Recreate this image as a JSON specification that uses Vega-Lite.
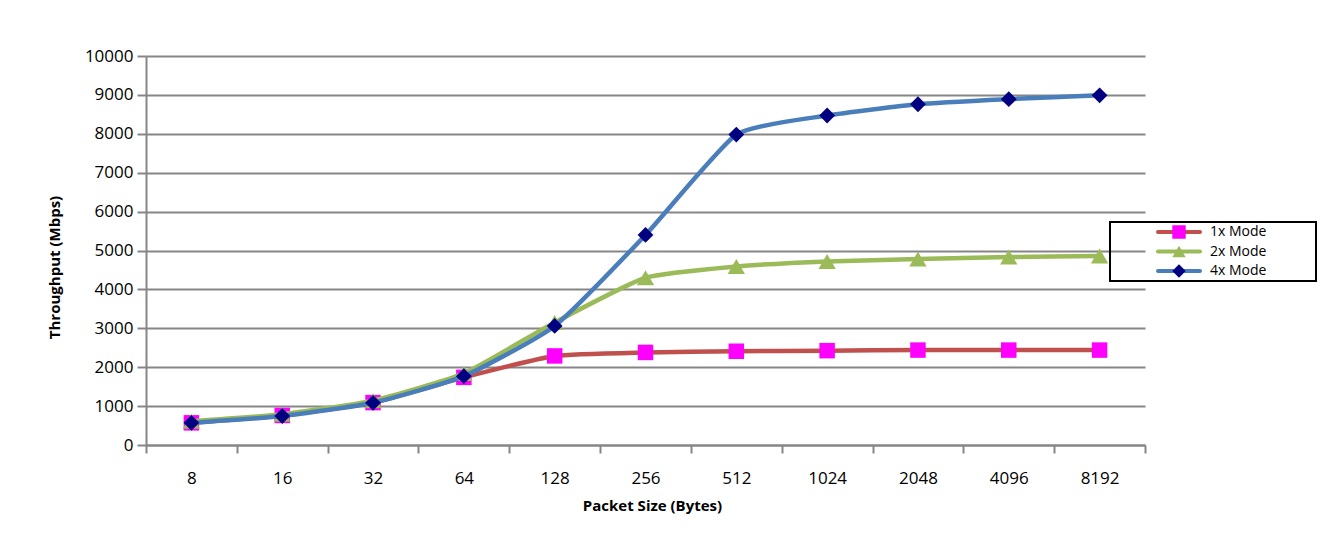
{
  "$schema": "https://vega.github.io/schema/vega-lite/v6.json",
  "width": 999,
  "height": 389,
  "autosize": {"type": "none"},
  "padding": {"left": 146, "top": 56, "right": 179, "bottom": 91},
  "background": "white",
  "config": {
    "font": "Open Sans",
    "view": {"stroke": null},
    "axis": {
      "domainColor": "#868686",
      "domainWidth": 2,
      "tickColor": "#868686",
      "tickWidth": 2,
      "gridColor": "#868686",
      "gridWidth": 2,
      "gridOpacity": 1,
      "labelColor": "black",
      "labelFont": "Open Sans",
      "labelFontSize": 17,
      "titleColor": "black",
      "titleFont": "Open Sans",
      "titleFontSize": 15,
      "titleFontWeight": "bold"
    }
  },
  "data": {
    "values": [
      {"size": 8, "mode": "1x Mode", "mbps": 570},
      {"size": 16, "mode": "1x Mode", "mbps": 760},
      {"size": 32, "mode": "1x Mode", "mbps": 1090},
      {"size": 64, "mode": "1x Mode", "mbps": 1740},
      {"size": 128, "mode": "1x Mode", "mbps": 2290},
      {"size": 256, "mode": "1x Mode", "mbps": 2380},
      {"size": 512, "mode": "1x Mode", "mbps": 2410},
      {"size": 1024, "mode": "1x Mode", "mbps": 2425},
      {"size": 2048, "mode": "1x Mode", "mbps": 2440},
      {"size": 4096, "mode": "1x Mode", "mbps": 2440},
      {"size": 8192, "mode": "1x Mode", "mbps": 2440},
      {"size": 8, "mode": "2x Mode", "mbps": 610},
      {"size": 16, "mode": "2x Mode", "mbps": 790},
      {"size": 32, "mode": "2x Mode", "mbps": 1140},
      {"size": 64, "mode": "2x Mode", "mbps": 1840},
      {"size": 128, "mode": "2x Mode", "mbps": 3150},
      {"size": 256, "mode": "2x Mode", "mbps": 4300},
      {"size": 512, "mode": "2x Mode", "mbps": 4590},
      {"size": 1024, "mode": "2x Mode", "mbps": 4720},
      {"size": 2048, "mode": "2x Mode", "mbps": 4780},
      {"size": 4096, "mode": "2x Mode", "mbps": 4830},
      {"size": 8192, "mode": "2x Mode", "mbps": 4860},
      {"size": 8, "mode": "4x Mode", "mbps": 570},
      {"size": 16, "mode": "4x Mode", "mbps": 745},
      {"size": 32, "mode": "4x Mode", "mbps": 1085},
      {"size": 64, "mode": "4x Mode", "mbps": 1770},
      {"size": 128, "mode": "4x Mode", "mbps": 3060},
      {"size": 256, "mode": "4x Mode", "mbps": 5400},
      {"size": 512, "mode": "4x Mode", "mbps": 7980},
      {"size": 1024, "mode": "4x Mode", "mbps": 8470},
      {"size": 2048, "mode": "4x Mode", "mbps": 8760},
      {"size": 4096, "mode": "4x Mode", "mbps": 8890},
      {"size": 8192, "mode": "4x Mode", "mbps": 8990}
    ]
  },
  "encoding": {
    "x": {
      "field": "size",
      "type": "ordinal",
      "bandPosition": 0.5,
      "scale": {"type": "band", "paddingInner": 0, "paddingOuter": 0},
      "axis": {
        "title": "Packet Size (Bytes)",
        "labelAngle": 0,
        "tickBand": "extent",
        "tickSize": 8,
        "labelPadding": 25,
        "labelBaseline": "middle",
        "grid": false,
        "titleX": 506,
        "titleY": 60,
        "titleBaseline": "middle",
        "titleAlign": "center"
      }
    },
    "y": {
      "field": "mbps",
      "type": "quantitative",
      "scale": {"domain": [0, 10000], "nice": false},
      "axis": {
        "title": "Throughput (Mbps)",
        "values": [0, 1000, 2000, 3000, 4000, 5000, 6000, 7000, 8000, 9000, 10000],
        "format": "d",
        "tickSize": 9,
        "labelPadding": 4,
        "labelBaseline": "middle",
        "grid": true,
        "titleX": -92,
        "titleY": 211,
        "titleAngle": -90,
        "titleAlign": "center",
        "titleBaseline": "middle"
      }
    }
  },
  "layer": [
    {
      "transform": [{"filter": "datum.mode === '1x Mode'"}],
      "mark": {"type": "line", "interpolate": "cardinal", "tension": 0.5, "strokeWidth": 4.5},
      "encoding": {
        "stroke": {
          "field": "mode",
          "type": "nominal",
          "scale": {"domain": ["1x Mode", "2x Mode", "4x Mode"], "range": ["#c0504d", "#9bbb59", "#4a7ebb"]},
          "legend": {
            "title": null,
            "orient": "none",
            "legendX": 964,
            "legendY": 166,
            "padding": 1,
            "clipHeight": 18,
            "rowPadding": 1.5,
            "symbolType": "stroke",
            "symbolSize": 1764,
            "symbolStrokeWidth": 4,
            "symbolOffset": 45,
            "labelOffset": 8,
            "labelFont": "Open Sans",
            "labelFontSize": 14,
            "labelColor": "black",
            "encode": {
              "symbols": {"update": {"strokeCap": {"value": "round"}}}
            }
          }
        }
      }
    },
    {
      "transform": [{"filter": "datum.mode === '1x Mode'"}],
      "mark": {"type": "point", "filled": true, "opacity": 1, "size": 240},
      "encoding": {
        "fill": {
          "field": "mode",
          "type": "nominal",
          "scale": {"range": ["#ff00ff", "#9bbb59", "#000080"]},
          "legend": {
            "title": null,
            "orient": "none",
            "legendX": 964,
            "legendY": 166,
            "padding": 1,
            "strokeColor": "black",
            "clipHeight": 18,
            "rowPadding": 1.5,
            "symbolSize": 180,
            "symbolStrokeWidth": 0,
            "symbolOpacity": 1,
            "symbolOffset": 61,
            "labelOffset": 84,
            "labelFont": "Open Sans",
            "labelFontSize": 11,
            "labelOpacity": 0,
            "encode": {
              "legend": {"update": {"strokeWidth": {"value": 2}}}
            }
          }
        },
        "shape": {
          "field": "mode",
          "type": "nominal",
          "scale": {"range": ["square", "triangle-up", "diamond"]},
          "legend": {
            "title": null,
            "orient": "none",
            "legendX": 964,
            "legendY": 166,
            "padding": 1,
            "strokeColor": "black",
            "clipHeight": 18,
            "rowPadding": 1.5,
            "symbolSize": 180,
            "symbolStrokeWidth": 0,
            "symbolOpacity": 1,
            "symbolOffset": 61,
            "labelOffset": 84,
            "labelFont": "Open Sans",
            "labelFontSize": 11,
            "labelOpacity": 0,
            "encode": {
              "legend": {"update": {"strokeWidth": {"value": 2}}}
            }
          }
        }
      }
    },
    {
      "transform": [{"filter": "datum.mode === '2x Mode'"}],
      "mark": {"type": "line", "interpolate": "cardinal", "tension": 0.5, "strokeWidth": 4.5},
      "encoding": {
        "stroke": {"field": "mode", "type": "nominal"}
      }
    },
    {
      "transform": [{"filter": "datum.mode === '2x Mode'"}],
      "mark": {"type": "point", "filled": true, "opacity": 1, "size": 300},
      "encoding": {
        "fill": {"field": "mode", "type": "nominal"},
        "shape": {"field": "mode", "type": "nominal"}
      }
    },
    {
      "transform": [{"filter": "datum.mode === '4x Mode'"}],
      "mark": {"type": "line", "interpolate": "cardinal", "tension": 0.5, "strokeWidth": 4.5},
      "encoding": {
        "stroke": {"field": "mode", "type": "nominal"}
      }
    },
    {
      "transform": [{"filter": "datum.mode === '4x Mode'"}],
      "mark": {"type": "point", "filled": true, "opacity": 1, "size": 250},
      "encoding": {
        "fill": {"field": "mode", "type": "nominal"},
        "shape": {"field": "mode", "type": "nominal"}
      }
    }
  ]
}
